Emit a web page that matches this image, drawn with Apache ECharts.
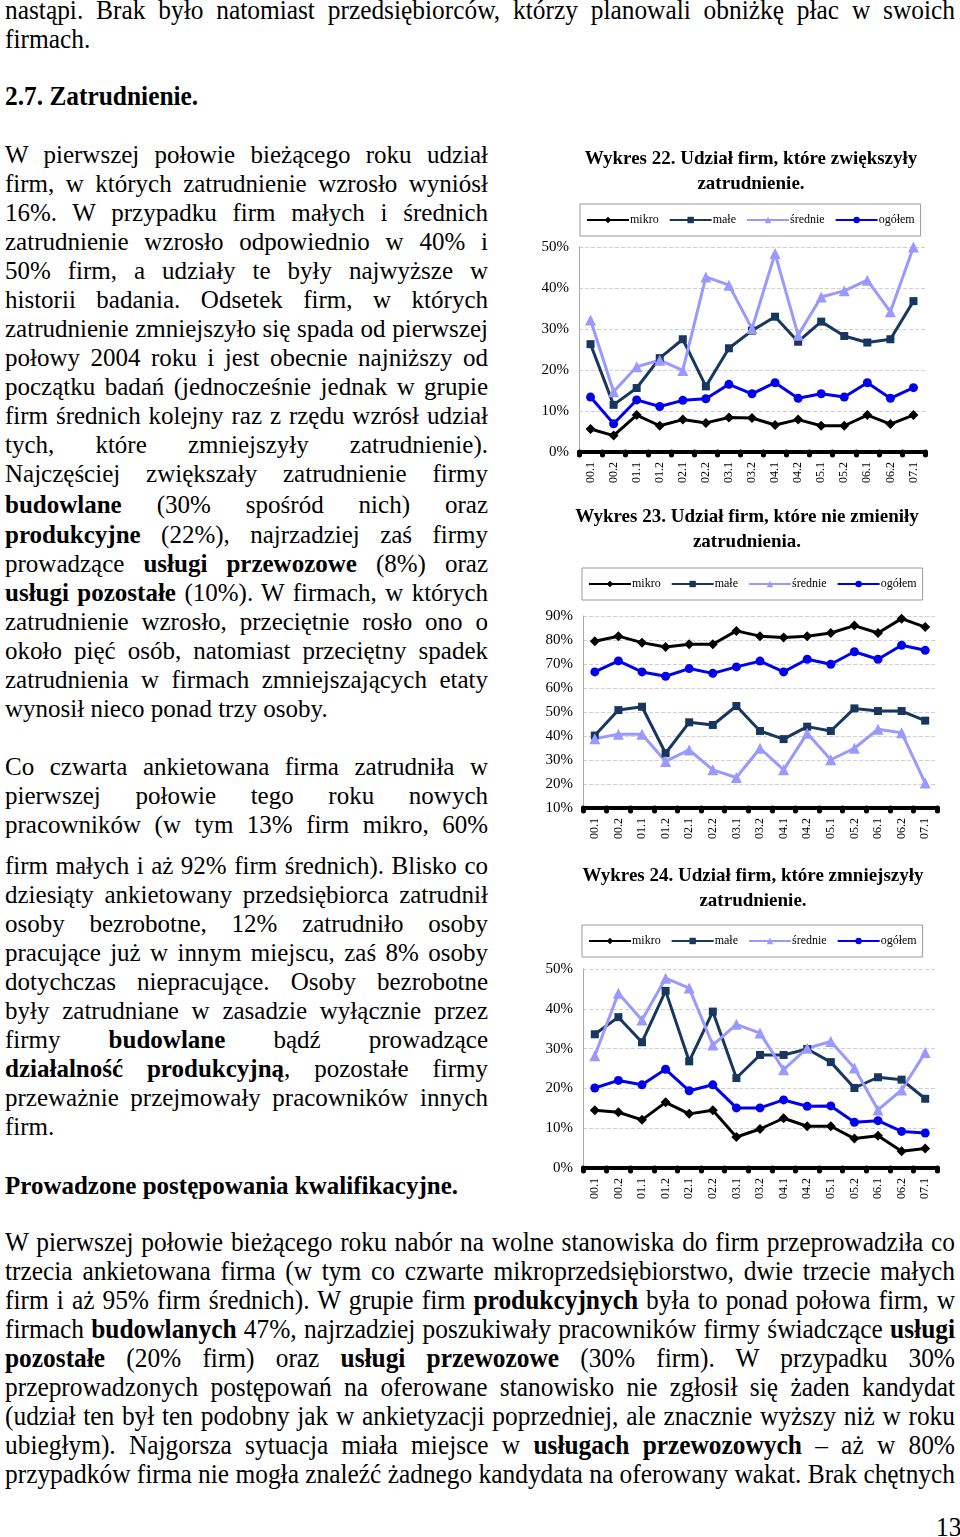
<!DOCTYPE html>
<html>
<head>
<meta charset="utf-8">
<script src="https://cdn.jsdelivr.net/npm/echarts@6/dist/echarts.min.js"></script>
<style>
html,body{margin:0;padding:0;background:#fff;}
body{width:960px;height:1537px;position:relative;overflow:hidden;font-family:"Liberation Serif","Times New Roman",serif;color:#000;}
.ln{position:absolute;height:29px;overflow:visible;}
.ln .in{transform-origin:0 0;line-height:29px;height:29px;white-space:nowrap;}
.chart{position:absolute;}
</style>
</head>
<body>
<div id="c22" class="chart" style="left:530px;top:140px;width:430px;height:355px;"></div>
<div id="c23" class="chart" style="left:530px;top:500px;width:430px;height:350px;"></div>
<div id="c24" class="chart" style="left:530px;top:860px;width:430px;height:350px;"></div>
<script>
// ---------- chart data ----------
const categories = ['00.1','00.2','01.1','01.2','02.1','02.2','03.1','03.2','04.1','04.2','05.1','05.2','06.1','06.2','07.1'];
const seriesNames = ['mikro','małe','średnie','ogółem'];

const w22_mikro   = [5.6,4.0,9.0,6.4,7.9,7.1,8.4,8.3,6.6,7.9,6.4,6.4,9.0,6.8,9.0];
const w22_male    = [26.3,11.5,15.6,22.9,27.5,16.0,25.3,29.6,33.0,26.9,31.8,28.3,26.7,27.5,36.8];
const w22_srednie = [32.2,14.7,20.8,22.4,19.9,42.7,40.7,30.1,48.4,28.5,37.8,39.3,41.9,34.2,50.0];
const w22_ogolem  = [13.4,6.9,12.7,11.1,12.6,13.0,16.5,14.2,16.9,13.1,14.2,13.4,16.9,13.1,15.7];

const w23_mikro   = [79.5,81.6,78.9,77.1,78.2,78.2,83.8,81.6,81.0,81.6,82.9,86.0,82.9,88.9,85.4];
const w23_male    = [40.2,50.8,52.2,32.8,45.7,44.6,52.5,42.1,38.7,43.9,42.1,51.5,50.4,50.4,46.4];
const w23_srednie = [38.9,40.7,40.7,29.4,34.2,25.9,22.7,34.9,25.9,41.1,30.1,34.9,42.8,41.4,20.4];
const w23_ogolem  = [66.7,71.3,66.7,64.9,68.1,66.1,68.8,71.2,66.7,72.0,69.9,75.1,72.0,77.8,75.7];

const w24_mikro   = [14.5,14.0,12.1,16.5,13.6,14.5,7.8,9.8,12.5,10.5,10.5,7.4,8.1,4.2,4.9];
const w24_male    = [33.6,37.9,31.6,44.5,26.8,39.3,22.6,28.4,28.4,29.9,26.6,20.1,22.8,22.2,17.4];
const w24_srednie = [28.2,43.9,37.2,47.7,45.2,30.9,36.1,33.9,24.7,30.1,31.8,25.1,14.6,19.6,29.0];
const w24_ogolem  = [20.1,22.0,20.9,24.8,19.4,20.9,15.1,15.1,17.1,15.5,15.6,11.5,11.9,9.2,8.8];

const titles = [
  'Wykres 22. Udział firm, które zwiększyły\nzatrudnienie.',
  'Wykres 23. Udział firm, które nie zmieniły\nzatrudnienia.',
  'Wykres 24. Udział firm, które zmniejszyły\nzatrudnienie.'
];

// ---------- text ----------
const leftLines = [
 ['W pierwszej połowie bieżącego roku udział',155,1],
 ['firm, w których zatrudnienie wzrosło wyniósł',184,1],
 ['16%. W przypadku firm małych i średnich',213,1],
 ['zatrudnienie wzrosło odpowiednio w 40% i',242,1],
 ['50% firm, a udziały te były najwyższe w',271,1],
 ['historii badania. Odsetek firm, w których',300,1],
 ['zatrudnienie zmniejszyło się spada od pierwszej',329,1],
 ['połowy 2004 roku i jest obecnie najniższy od',358,1],
 ['początku badań (jednocześnie jednak w grupie',387,1],
 ['firm średnich kolejny raz z rzędu wzrósł udział',416,1],
 ['tych, które zmniejszyły zatrudnienie).',445,1],
 ['Najczęściej zwiększały zatrudnienie firmy',474,1],
 ['<b>budowlane</b> (30% spośród nich) oraz',505,1],
 ['<b>produkcyjne</b> (22%), najrzadziej zaś firmy',535,1],
 ['prowadzące <b>usługi przewozowe</b> (8%) oraz',564,1],
 ['<b>usługi pozostałe</b> (10%). W firmach, w których',593,1],
 ['zatrudnienie wzrosło, przeciętnie rosło ono o',622,1],
 ['około pięć osób, natomiast przeciętny spadek',651,1],
 ['zatrudnienia w firmach zmniejszających etaty',680,1],
 ['wynosił nieco ponad trzy osoby.',709,0],
 ['Co czwarta ankietowana firma zatrudniła w',767,1],
 ['pierwszej połowie tego roku nowych',796,1],
 ['pracowników (w tym 13% firm mikro, 60%',825,1],
 ['firm małych i aż 92% firm średnich). Blisko co',866,1],
 ['dziesiąty ankietowany przedsiębiorca zatrudnił',895,1],
 ['osoby bezrobotne, 12% zatrudniło osoby',924,1],
 ['pracujące już w innym miejscu, zaś 8% osoby',953,1],
 ['dotychczas niepracujące. Osoby bezrobotne',982,1],
 ['były zatrudniane w zasadzie wyłącznie przez',1011,1],
 ['firmy <b>budowlane</b> bądź prowadzące',1040,1],
 ['<b>działalność produkcyjną</b>, pozostałe firmy',1069,1],
 ['przeważnie przejmowały pracowników innych',1098,1],
 ['firm.',1127,0],
 ['<b>Prowadzone postępowania kwalifikacyjne.</b>',1186,0]
];
const wideLines = [
 ['nastąpi. Brak było natomiast przedsiębiorców, którzy planowali obniżkę płac w swoich',11,1],
 ['firmach.',40,0],
 ['<b>2.7. Zatrudnienie.</b>',97,0],
 ['W pierwszej połowie bieżącego roku nabór na wolne stanowiska do firm przeprowadziła co',1243,1],
 ['trzecia ankietowana firma (w tym co czwarte mikroprzedsiębiorstwo, dwie trzecie małych',1272,1],
 ['firm i aż 95% firm średnich). W grupie firm <b>produkcyjnych</b> była to ponad połowa firm, w',1301,1],
 ['firmach <b>budowlanych</b> 47%, najrzadziej poszukiwały pracowników firmy świadczące <b>usługi</b>',1330,1],
 ['<b>pozostałe</b> (20% firm) oraz <b>usługi przewozowe</b> (30% firm). W przypadku 30%',1359,1],
 ['przeprowadzonych postępowań na oferowane stanowisko nie zgłosił się żaden kandydat',1388,1],
 ['(udział ten był ten podobny jak w ankietyzacji poprzedniej, ale znacznie wyższy niż w roku',1417,1],
 ['ubiegłym). Najgorsza sytuacja miała miejsce w <b>usługach przewozowych</b> – aż w 80%',1446,1],
 ['przypadków firma nie mogła znaleźć żadnego kandydata na oferowany wakat. Brak chętnych',1475,1]
];

function natWidth(html, fs) {
  const probe = document.createElement('span');
  probe.style.cssText = 'position:absolute;visibility:hidden;white-space:nowrap;font-size:'+fs+'px;';
  probe.innerHTML = html;
  document.body.appendChild(probe);
  const w = probe.getBoundingClientRect().width;
  document.body.removeChild(probe);
  return w;
}
function addLine(html, y, just, left, width, fs, scale) {
  const nat = natWidth(html, fs);
  let s = scale;
  if (nat * s > width) s = width / nat;
  const d = document.createElement('div');
  d.className = 'ln';
  d.style.left = left + 'px';
  d.style.top = (y - 15) + 'px';
  d.style.width = width + 'px';
  const inn = document.createElement('div');
  inn.className = 'in';
  inn.style.fontSize = fs + 'px';
  inn.style.width = (width / s) + 'px';
  inn.style.transform = 'scaleX(' + s + ')';
  inn.style.whiteSpace = 'normal';
  inn.style.textAlign = just ? 'justify' : 'left';
  inn.style.textAlignLast = just ? 'justify' : 'left';
  inn.innerHTML = html;
  d.appendChild(inn);
  document.body.appendChild(d);
}
const WFS = 27;
// the condensed text: scale derived from lines that are naturally spaced in the original
const wideScale = Math.min(
  950 / natWidth(wideLines[11][0], WFS),
  950 / natWidth(wideLines[4][0], WFS)
);
leftLines.forEach(l => addLine(l[0], l[1], l[2], 5, 483, 25, 1));
wideLines.forEach(l => addLine(l[0], l[1], l[2], 5, 950, WFS, wideScale));
addLine('13', 1528, 0, 936, 30, WFS, wideScale);

// ---------- charts ----------
const colors = ['#000000', '#17375E', '#9999FF', '#0000EE'];
const symbols = ['diamond', 'rect', 'triangle', 'circle'];
const symSizes = [10, 8, 11, 9];
const FONT = 'Liberation Serif';

function makeChart(id, cfg) {
  const ch = echarts.init(document.getElementById(id), null, {renderer: 'canvas'});
  const data = cfg.data;
  ch.setOption({
    animation: false,
    textStyle: {fontFamily: FONT},
    title: {
      text: cfg.title, left: cfg.titleX, top: cfg.titleTop, textAlign: 'center',
      textStyle: {fontFamily: FONT, fontSize: 19, fontWeight: 'bold', color: '#000', lineHeight: 25}
    },
    legend: {
      data: seriesNames, left: cfg.legend[0], top: cfg.legend[1],
      itemWidth: 42, itemHeight: 8, itemGap: 10,
      padding: [10, 6, 10, 6],
      borderColor: '#999', borderWidth: 1,
      textStyle: {fontFamily: FONT, fontSize: 12, color: '#000', padding: [0, 0, 0, -4]}
    },
    grid: {left: cfg.grid[0], right: cfg.grid[1], top: cfg.grid[2], bottom: cfg.grid[3]},
    xAxis: {
      type: 'category', data: categories, boundaryGap: true,
      axisLine: {lineStyle: {color: '#000', width: 4}},
      axisTick: {show: true, length: 3, lineStyle: {color: '#000', width: 5, cap: 'round'}},
      axisLabel: {rotate: 90, fontFamily: FONT, fontSize: 12, color: '#000', margin: 10, interval: 0}
    },
    yAxis: {
      type: 'value', min: cfg.ymin, max: cfg.ymax, interval: 10,
      axisLine: {show: true, lineStyle: {color: '#aaa', width: 1}},
      axisTick: {show: false},
      splitLine: {show: true, lineStyle: {color: '#d0d0d0', type: 'dashed', width: 1}},
      axisLabel: {formatter: '{value}%', fontFamily: FONT, fontSize: 15, color: '#000', margin: 10}
    },
    series: seriesNames.map((n, i) => ({
      name: n, type: 'line', data: data[i],
      symbol: symbols[i], symbolSize: symSizes[i], showSymbol: true,
      itemStyle: {color: colors[i]},
      lineStyle: {color: colors[i], width: 3}
    }))
  });
}

makeChart('c22', {
  title: titles[0], titleX: 216, titleTop: 2,
  legend: [50, 64], grid: [49, 35, 107, 43], ymin: 0, ymax: 50,
  data: [w22_mikro, w22_male, w22_srednie, w22_ogolem]
});
makeChart('c23', {
  title: titles[1], titleX: 212, titleTop: 0,
  legend: [52, 68], grid: [53, 23, 116, 42], ymin: 10, ymax: 90,
  data: [w23_mikro, w23_male, w23_srednie, w23_ogolem]
});
makeChart('c24', {
  title: titles[2], titleX: 218, titleTop: -1,
  legend: [52, 65], grid: [53, 23, 109, 42], ymin: 0, ymax: 50,
  data: [w24_mikro, w24_male, w24_srednie, w24_ogolem]
});
</script>
</body>
</html>
